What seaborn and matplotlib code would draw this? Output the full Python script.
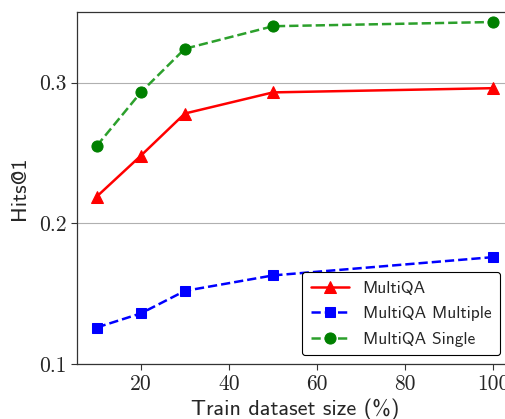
import matplotlib
matplotlib.use('Agg')
import matplotlib.pyplot as plt
import seaborn as sns
import pandas as pd

sizes = [10, 20, 30, 50, 100]
multiqa = [0.219, 0.248, 0.278, 0.293, 0.296]
multiqa_multiple = [0.126, 0.136, 0.152, 0.163, 0.176]
multiqa_single = [0.255, 0.293, 0.324, 0.340, 0.343]

sns.set_style('white')
plt.rcParams['font.family'] = ['cmss10', 'DejaVu Sans']
plt.rcParams['axes.unicode_minus'] = False

fig = plt.figure(figsize=(5.06, 4.19), dpi=100)
ax = fig.add_axes([0.152, 0.131, 0.862, 0.840])

ax.grid(axis='y', color='#b0b0b0', linewidth=0.8)
ax.set_axisbelow(True)

series = [
    ('MultiQA', multiqa, dict(color='red', linestyle='-', marker='^',
                              markeredgecolor='red', markersize=9)),
    ('MultiQA Multiple', multiqa_multiple, dict(color='blue', linestyle='--', marker='s',
                                                 markeredgecolor='blue', markersize=7.5)),
    ('MultiQA Single', multiqa_single, dict(color='#2ca02c', linestyle='--', marker='o',
                                             markerfacecolor='green', markeredgecolor='green',
                                             markersize=8)),
]
for name, vals, style in series:
    df = pd.DataFrame({'size': sizes, 'hits': vals})
    sns.lineplot(data=df, x='size', y='hits', ax=ax, label=name,
                 linewidth=1.8, **style)

ax.set_xlim(5.5, 104.5)
ax.set_ylim(0.1, 0.35)
ax.set_xticks([20, 40, 60, 80, 100])
ax.set_yticks([0.1, 0.2, 0.3])
ax.set_xticklabels(['20', '40', '60', '80', '100'])
ax.set_yticklabels(['0.1', '0.2', '0.3'])
for lab in ax.get_xticklabels() + ax.get_yticklabels():
    lab.set_fontfamily('cmr10')
    lab.set_fontsize(15.5)
ax.tick_params(direction='out', length=4, width=0.8, color='#333333', bottom=True, left=True)
for s in ax.spines.values():
    s.set_color('#333333')
    s.set_linewidth(0.9)

ax.set_xlabel('Train dataset size (%)', fontsize=16, labelpad=3)
ax.set_ylabel('Hits@1', fontsize=16, labelpad=7)

leg = ax.legend(loc='lower right', fontsize=12.5, frameon=True, fancybox=True,
                edgecolor='black', framealpha=1, bbox_to_anchor=(0.99, 0.0),
                handlelength=2.2, borderpad=0.5, labelspacing=0.6)
leg.get_frame().set_linewidth(0.8)

fig.savefig('out.png', dpi=100)
